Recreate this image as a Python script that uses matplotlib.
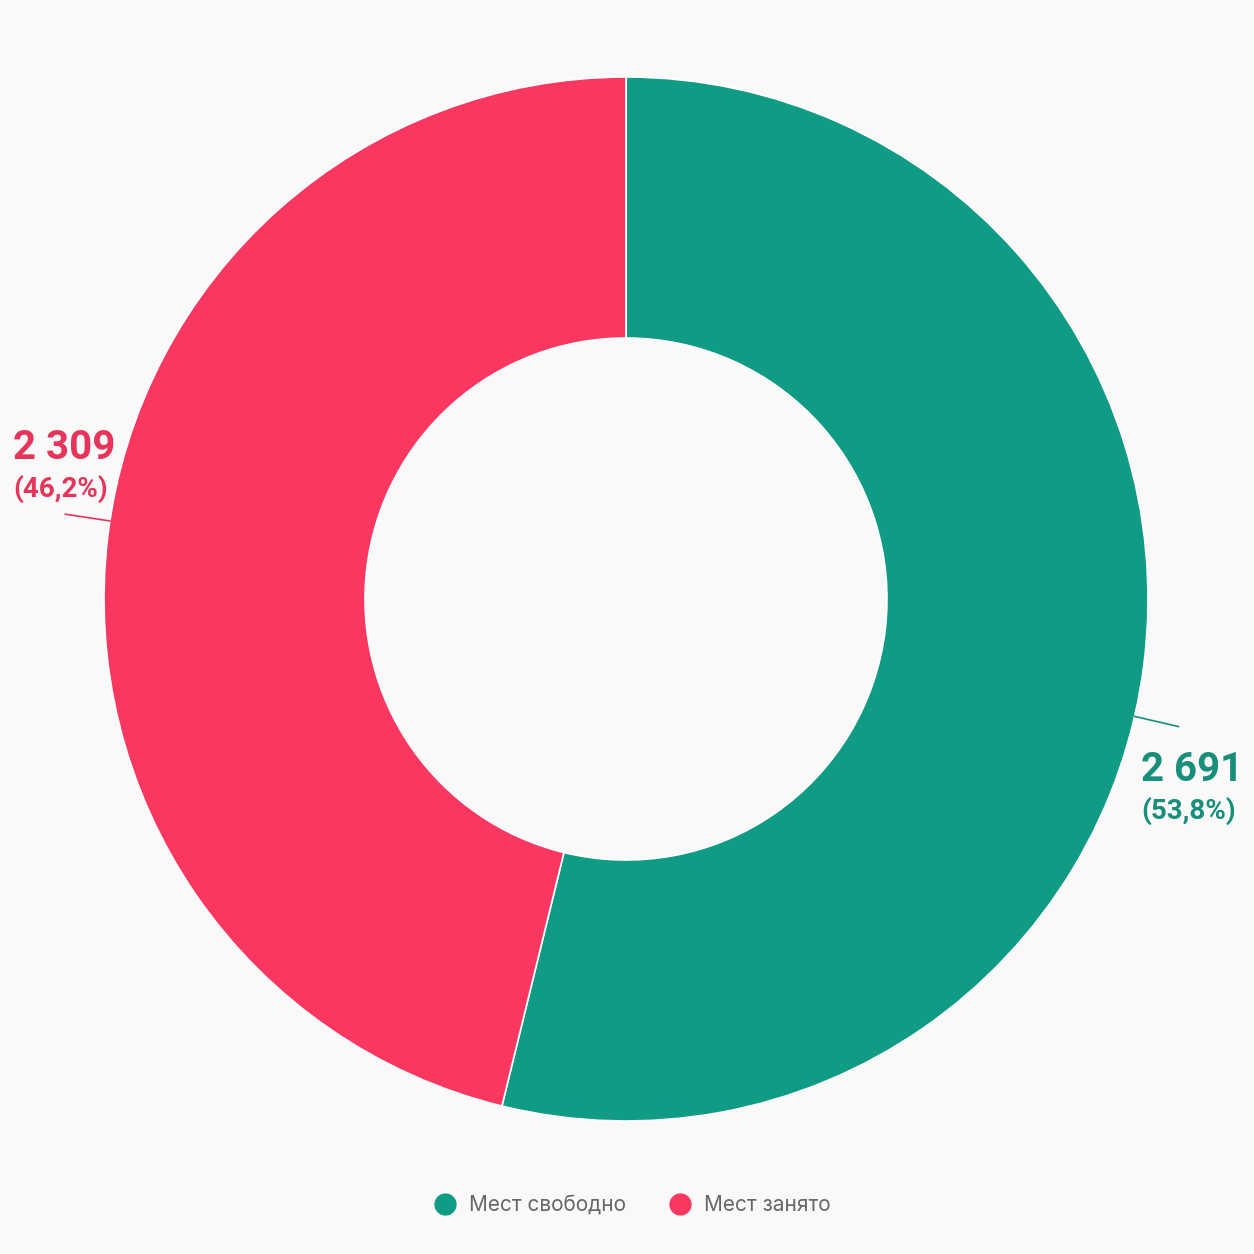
import numpy as np
import matplotlib.pyplot as plt
from matplotlib.lines import Line2D

# Data
categories = ["Мест свободно", "Мест занято"]
values = [2691, 2309]
colors = ["#109B85", "#FA3761"]
label_colors = ["#178F7B", "#E6345B"]

plt.rcParams["font.family"] = ["Inter", "DejaVu Sans"]

W = H = 1254
fig = plt.figure(figsize=(W / 100, H / 100), dpi=100, facecolor="#F9F9F9")
ax = fig.add_axes([0, 0, 1, 1])
ax.set_facecolor("#F9F9F9")

cx, cy = 626, H - 599
R = 522
ax.pie(values, colors=colors, startangle=90, counterclock=False,
       radius=R, center=(cx, cy), frame=True,
       wedgeprops=dict(width=R * 0.5, edgecolor="white", linewidth=1.2))
ax.set_xlim(0, W)
ax.set_ylim(0, H)
ax.set_aspect("equal")
ax.axis("off")

total = sum(values)
# leader-line angles (degrees) and text anchors
line_angles = [-13.0, 171.4]
text_pos = [(1141, H - 770), (13, H - 448)]
for v, col, ang, (tx, ty) in zip(values, label_colors, line_angles, text_pos):
    a = np.deg2rad(ang)
    r0, r1 = R, R + 45
    ax.plot([cx + r0 * np.cos(a), cx + r1 * np.cos(a)],
            [cy + r0 * np.sin(a), cy + r1 * np.sin(a)],
            color=col, lw=1.2)
    num = f"{v:,}".replace(",", " ")
    pct = f"({v / total * 100:.1f}%)".replace(".", ",")
    ax.text(tx, ty, num, color=col, fontsize=29, fontweight="bold",
            family=["Roboto", "DejaVu Sans"], ha="left", va="center")
    ax.text(tx, ty - 41, pct, color=col, fontsize=20, fontweight="bold",
            family=["Roboto", "DejaVu Sans"], ha="left", va="center")

handles = [Line2D([], [], marker="o", linestyle="", markersize=15,
                  markerfacecolor=c, markeredgecolor=c) for c in colors]
fig.legend(handles, categories, loc="center", bbox_to_anchor=(0.5, 0.039),
           ncol=2, frameon=False, fontsize=15, labelcolor="#666666",
           handletextpad=0.15, columnspacing=1.6)

fig.savefig("out.png", dpi=100, facecolor=fig.get_facecolor())
